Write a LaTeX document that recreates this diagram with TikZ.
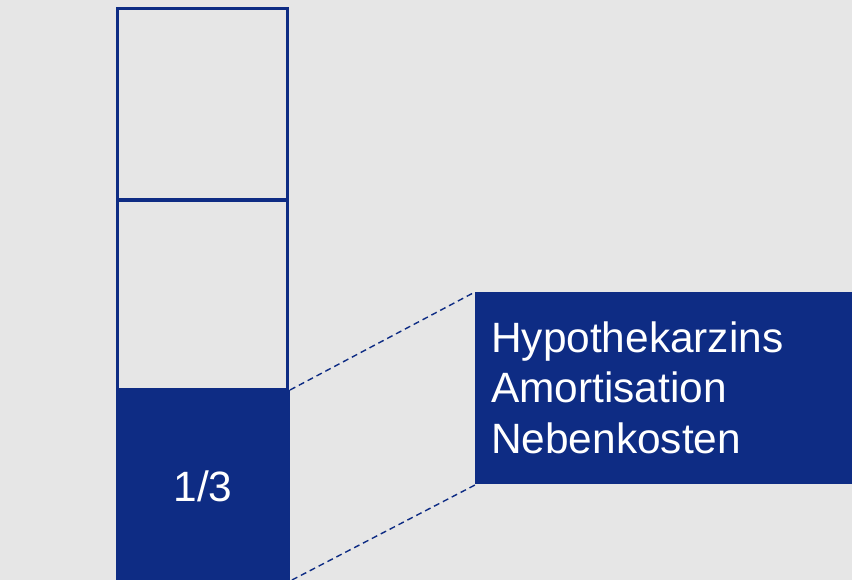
\documentclass[tikz,border=0pt]{standalone}
\usepackage{fontspec}
\setmainfont{Liberation Sans}
\definecolor{bg}{HTML}{E6E6E6}
\definecolor{navy}{HTML}{0E2C84}
\begin{document}
\begin{tikzpicture}[x=1pt,y=1pt,
  cell/.style={draw=navy,line width=3.2pt},
  link/.style={draw=navy,line width=1.4pt,dash pattern=on 6pt off 4pt},
  lbl/.style={text=white,font=\fontsize{42.4}{51}\selectfont,inner sep=0pt}]
\fill[bg] (0,0) rectangle (852,580);
\useasboundingbox (0,0) rectangle (852,580);
% column
\fill[navy] (116,-5) rectangle (290,190);
\draw[cell] (117.5,-5) -- (117.5,571.5) -- (287.5,571.5) -- (287.5,-5);
\draw[cell] (117.5,380) -- (287.5,380);
\draw[cell] (117.5,190) -- (287.5,190);
\node[lbl,anchor=base] (frac) at (203,78) {1/3};
% box
\fill[navy] (475,96) rectangle (860,288);
\node[lbl,anchor=base west] (l1) at (491,227) {Hypothekarzins};
\node[lbl,anchor=base west] (l2) at (491,177) {Amortisation};
\node[lbl,anchor=base west] (l3) at (491,126) {Nebenkosten};
\coordinate (a1) at (290,190);
\coordinate (a2) at (475,288);
\coordinate (b1) at (292,0);
\coordinate (b2) at (475,95);
\draw[link] (a1) -- (a2);
\draw[link] (b1) -- (b2);
\end{tikzpicture}
\end{document}
